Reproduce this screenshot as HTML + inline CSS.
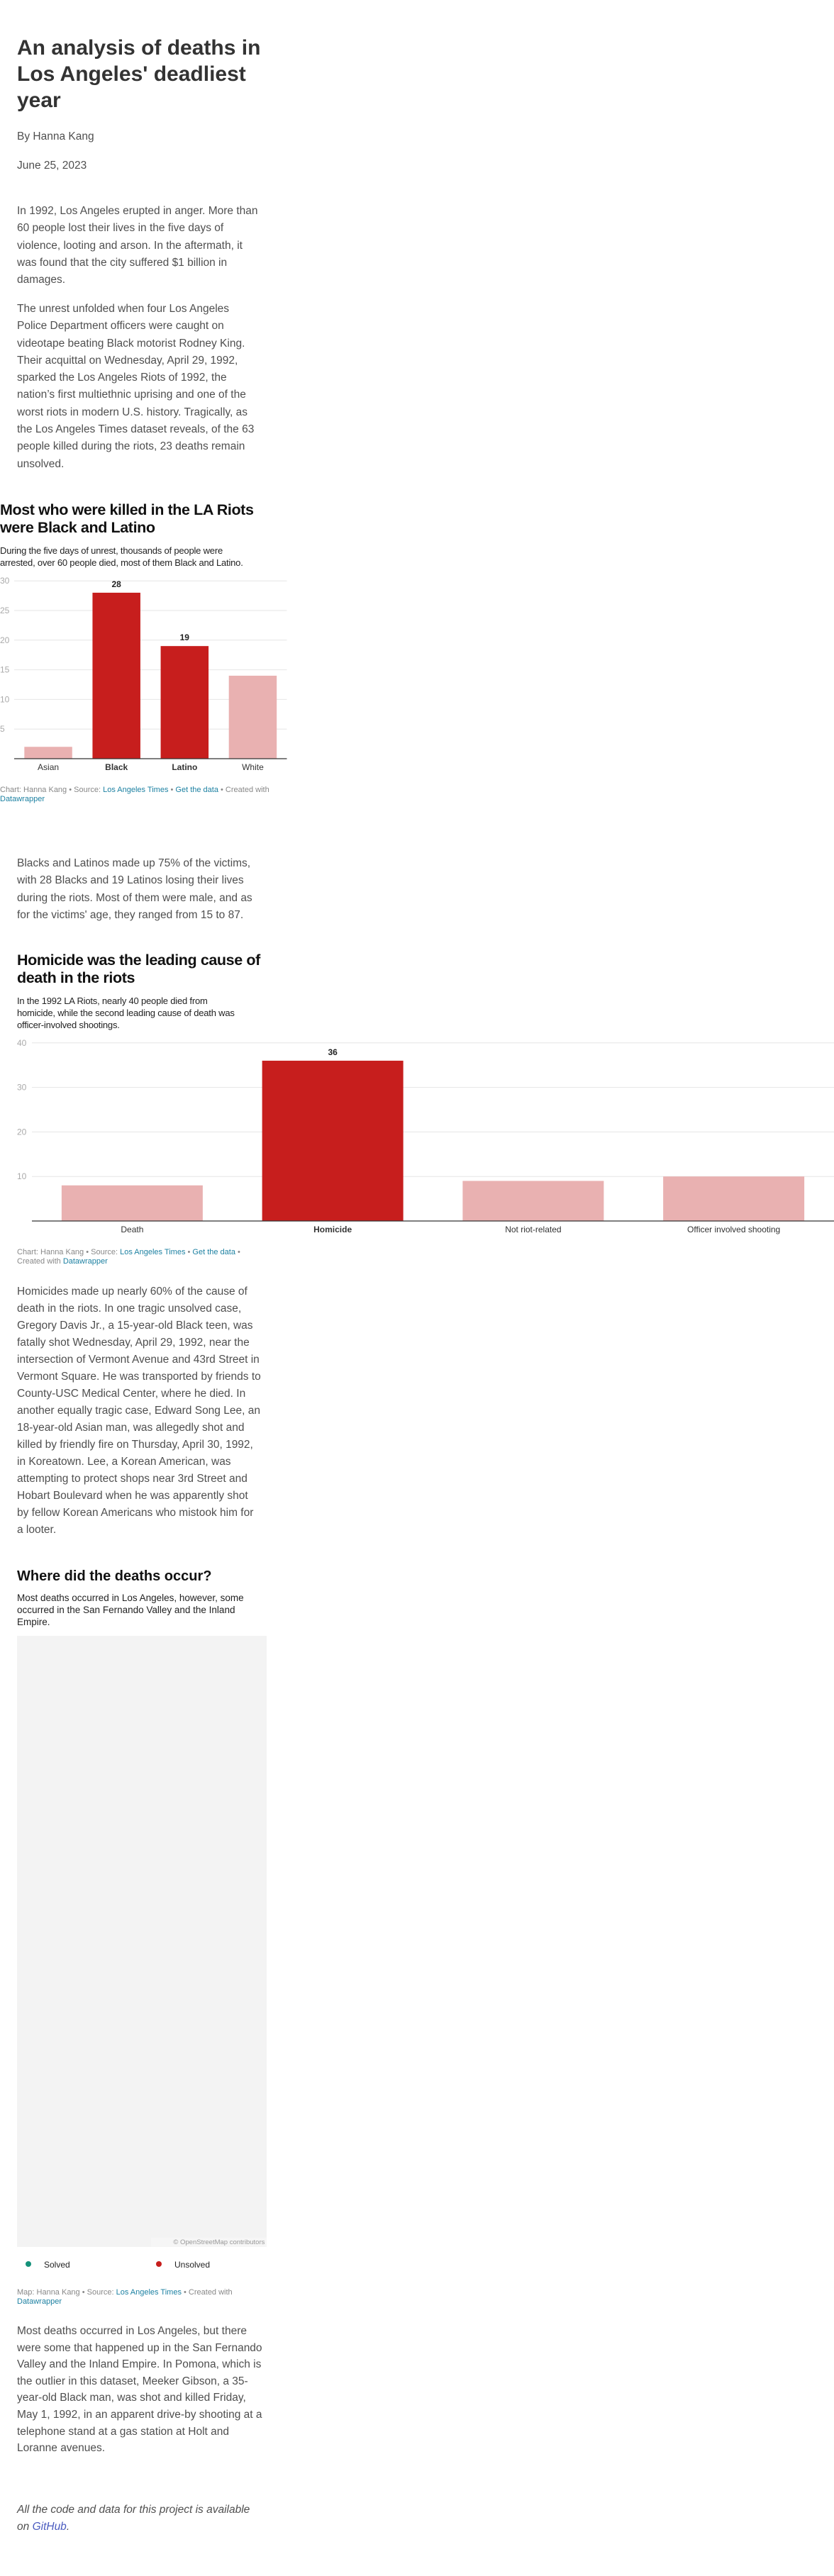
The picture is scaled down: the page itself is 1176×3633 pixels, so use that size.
<!DOCTYPE html>
<html><head><meta charset="utf-8">
<style>
html,body{margin:0;padding:0;background:#fff;}
body{width:1176px;height:3633px;position:relative;overflow:hidden;font-family:"Liberation Sans",Arial,sans-serif;}
.a{position:absolute;white-space:nowrap;}
.p{color:#4f4f4f;font-size:15.5px;line-height:24.3px;left:24px;}
.ct{color:#111;font-weight:bold;font-size:21.5px;line-height:25px;letter-spacing:-0.4px;}
.cs{color:#222;font-size:13px;line-height:17px;letter-spacing:-0.2px;}
.ft{color:#888;font-size:11px;line-height:13px;}
.ft a{color:#1d81a2;text-decoration:none;}
svg text{font-family:"Liberation Sans",Arial,sans-serif;}
</style></head>
<body>

<div class="a" style="left:24px;top:49px;font-size:30px;line-height:37px;font-weight:bold;color:#333;">An analysis of deaths in<br>Los Angeles' deadliest<br>year</div>
<div class="a p" style="top:181px;">By Hanna Kang</div>
<div class="a p" style="top:222px;">June 25, 2023</div>

<div class="a p" style="top:286px;">In 1992, Los Angeles erupted in anger. More than<br>60 people lost their lives in the five days of<br>violence, looting and arson. In the aftermath, it<br>was found that the city suffered $1 billion in<br>damages.</div>
<div class="a p" style="top:424px;">The unrest unfolded when four Los Angeles<br>Police Department officers were caught on<br>videotape beating Black motorist Rodney King.<br>Their acquittal on Wednesday, April 29, 1992,<br>sparked the Los Angeles Riots of 1992, the<br>nation’s first multiethnic uprising and one of the<br>worst riots in modern U.S. history. Tragically, as<br>the Los Angeles Times dataset reveals, of the 63<br>people killed during the riots, 23 deaths remain<br>unsolved.</div>

<!-- Chart 1 -->
<div class="a ct" style="left:0;top:707px;">Most who were killed in the LA Riots<br>were Black and Latino</div>
<div class="a cs" style="left:0;top:768px;">During the five days of unrest, thousands of people were<br>arrested, over 60 people died, most of them Black and Latino.</div>
<svg class="a" id="chart1" style="left:0;top:800px;" width="420" height="300"></svg>
<div class="a ft" style="left:0;top:1108px;">Chart: Hanna Kang • Source: <a>Los Angeles Times</a> • <a>Get the data</a> • Created with<br><a>Datawrapper</a></div>

<div class="a p" style="top:1206px;">Blacks and Latinos made up 75% of the victims,<br>with 28 Blacks and 19 Latinos losing their lives<br>during the riots. Most of them were male, and as<br>for the victims' age, they ranged from 15 to 87.</div>

<!-- Chart 2 -->
<div class="a ct" style="left:24px;top:1342px;">Homicide was the leading cause of<br>death in the riots</div>
<div class="a cs" style="left:24px;top:1403px;">In the 1992 LA Riots, nearly 40 people died from<br>homicide, while the second leading cause of death was<br>officer-involved shootings.</div>
<svg class="a" id="chart2" style="left:0;top:1450px;" width="1176" height="300"></svg>
<div class="a ft" style="left:24px;top:1760px;">Chart: Hanna Kang • Source: <a>Los Angeles Times</a> • <a>Get the data</a> •<br>Created with <a>Datawrapper</a></div>

<div class="a p" style="top:1810px;line-height:24px;">Homicides made up nearly 60% of the cause of<br>death in the riots. In one tragic unsolved case,<br>Gregory Davis Jr., a 15-year-old Black teen, was<br>fatally shot Wednesday, April 29, 1992, near the<br>intersection of Vermont Avenue and 43rd Street in<br>Vermont Square. He was transported by friends to<br>County-USC Medical Center, where he died. In<br>another equally tragic case, Edward Song Lee, an<br>18-year-old Asian man, was allegedly shot and<br>killed by friendly fire on Thursday, April 30, 1992,<br>in Koreatown. Lee, a Korean American, was<br>attempting to protect shops near 3rd Street and<br>Hobart Boulevard when he was apparently shot<br>by fellow Korean Americans who mistook him for<br>a looter.</div>

<!-- Map -->
<div class="a" style="left:24px;top:2210px;font-size:20px;line-height:26px;font-weight:bold;color:#111;">Where did the deaths occur?</div>
<div class="a" style="left:24px;top:2245px;font-size:13.5px;line-height:17px;color:#222;">Most deaths occurred in Los Angeles, however, some<br>occurred in the San Fernando Valley and the Inland<br>Empire.</div>
<div class="a" style="left:24px;top:2307px;width:352px;height:862px;background:#f3f3f3;"></div>
<div class="a" style="left:213px;top:3156px;width:163px;height:13px;background:#f6f6f6;color:#999;font-size:9.5px;line-height:13px;text-align:right;">© OpenStreetMap contributors&nbsp;</div>
<div class="a" style="left:36px;top:3187px;font-size:12px;line-height:14px;color:#222;"><span style="display:inline-block;width:8px;height:8px;border-radius:50%;background:#14917a;margin-right:18px;vertical-align:1px;"></span>Solved</div>
<div class="a" style="left:220px;top:3187px;font-size:12px;line-height:14px;color:#222;"><span style="display:inline-block;width:8px;height:8px;border-radius:50%;background:#c71e1d;margin-right:18px;vertical-align:1px;"></span>Unsolved</div>
<div class="a ft" style="left:24px;top:3227px;">Map: Hanna Kang • Source: <a>Los Angeles Times</a> • Created with<br><a>Datawrapper</a></div>

<div class="a p" style="top:3276px;line-height:23.6px;">Most deaths occurred in Los Angeles, but there<br>were some that happened up in the San Fernando<br>Valley and the Inland Empire. In Pomona, which is<br>the outlier in this dataset, Meeker Gibson, a 35-<br>year-old Black man, was shot and killed Friday,<br>May 1, 1992, in an apparent drive-by shooting at a<br>telephone stand at a gas station at Holt and<br>Loranne avenues.</div>

<div class="a p" style="top:3528px;font-style:italic;line-height:23.5px;">All the code and data for this project is available<br>on <a style="color:#4a5bbf;text-decoration:none;">GitHub</a>.</div>

<script>
const raceCats = ["Asian","Black","Latino","White"];
const raceVals = [2,28,19,14];
const raceHighlight = [false,true,true,false];
const raceTicks = [5,10,15,20,25,30];

const causeCats = ["Death","Homicide","Not riot-related","Officer involved shooting"];
const causeVals = [8,36,9,10];
const causeHighlight = [false,true,false,false];
const causeTicks = [10,20,30,40];

const NS = "http://www.w3.org/2000/svg";
function mk(svg, tag, attrs, txt){
  const e = document.createElementNS(NS, tag);
  for (const k in attrs) e.setAttribute(k, attrs[k]);
  if (txt !== undefined) e.textContent = txt;
  svg.appendChild(e);
  return e;
}
function drawChart(svgId, cats, vals, hi, ticks, cfg, prefix){
  const svg = document.getElementById(svgId);
  const y = v => cfg.y0 - v * cfg.pxPerUnit;
  const band = (cfg.x1 - cfg.x0) / cats.length;
  const bx = i => cfg.x0 + i * band + (band - cfg.barW) / 2;
  ticks.forEach(t => {
    const g = mk(svg, "line", {x1:cfg.x0, x2:cfg.x1, y1:y(t), y2:y(t), stroke:"#e6e6e6", "stroke-width":1});
    
    
    const tl = mk(svg, "text", {x:cfg.tickX, y:y(t)+4, "font-size":12, fill:"#aaa", "text-anchor":"start"}, String(t));
    
    
  });
  cats.forEach((c, i) => {
    const r = mk(svg, "rect", {x:bx(i), y:y(vals[i]), width:cfg.barW, height:vals[i]*cfg.pxPerUnit, fill: hi[i] ? "#c71e1d" : "#e9b1b1"});
    
    
    const cx = bx(i) + cfg.barW/2;
    if (hi[i]) {
      const vl = mk(svg, "text", {x:cx, y:y(vals[i])-8, "font-size":12, "font-weight":"bold", fill:"#222", "text-anchor":"middle"}, String(vals[i]));
      
      
    }
    const cl = mk(svg, "text", {x:cx, y:cfg.y0+16, "font-size":12, "font-weight": hi[i] ? "bold" : "normal", fill:"#333", "text-anchor":"middle"}, c);
    
    
  });
  const ax = mk(svg, "line", {x1:cfg.x0, x2:cfg.x1, y1:cfg.y0, y2:cfg.y0, stroke:"#333", "stroke-width":1.3});
  
  
}
drawChart("chart1", raceCats, raceVals, raceHighlight, raceTicks,
  {y0:270, pxPerUnit:8.36, x0:20, x1:404.5, barW:67.5, tickX:0}, "race");
drawChart("chart2", causeCats, causeVals, causeHighlight, causeTicks,
  {y0:272, pxPerUnit:6.28, x0:45, x1:1176, barW:199, tickX:24}, "cause");
</script>
</body></html>
